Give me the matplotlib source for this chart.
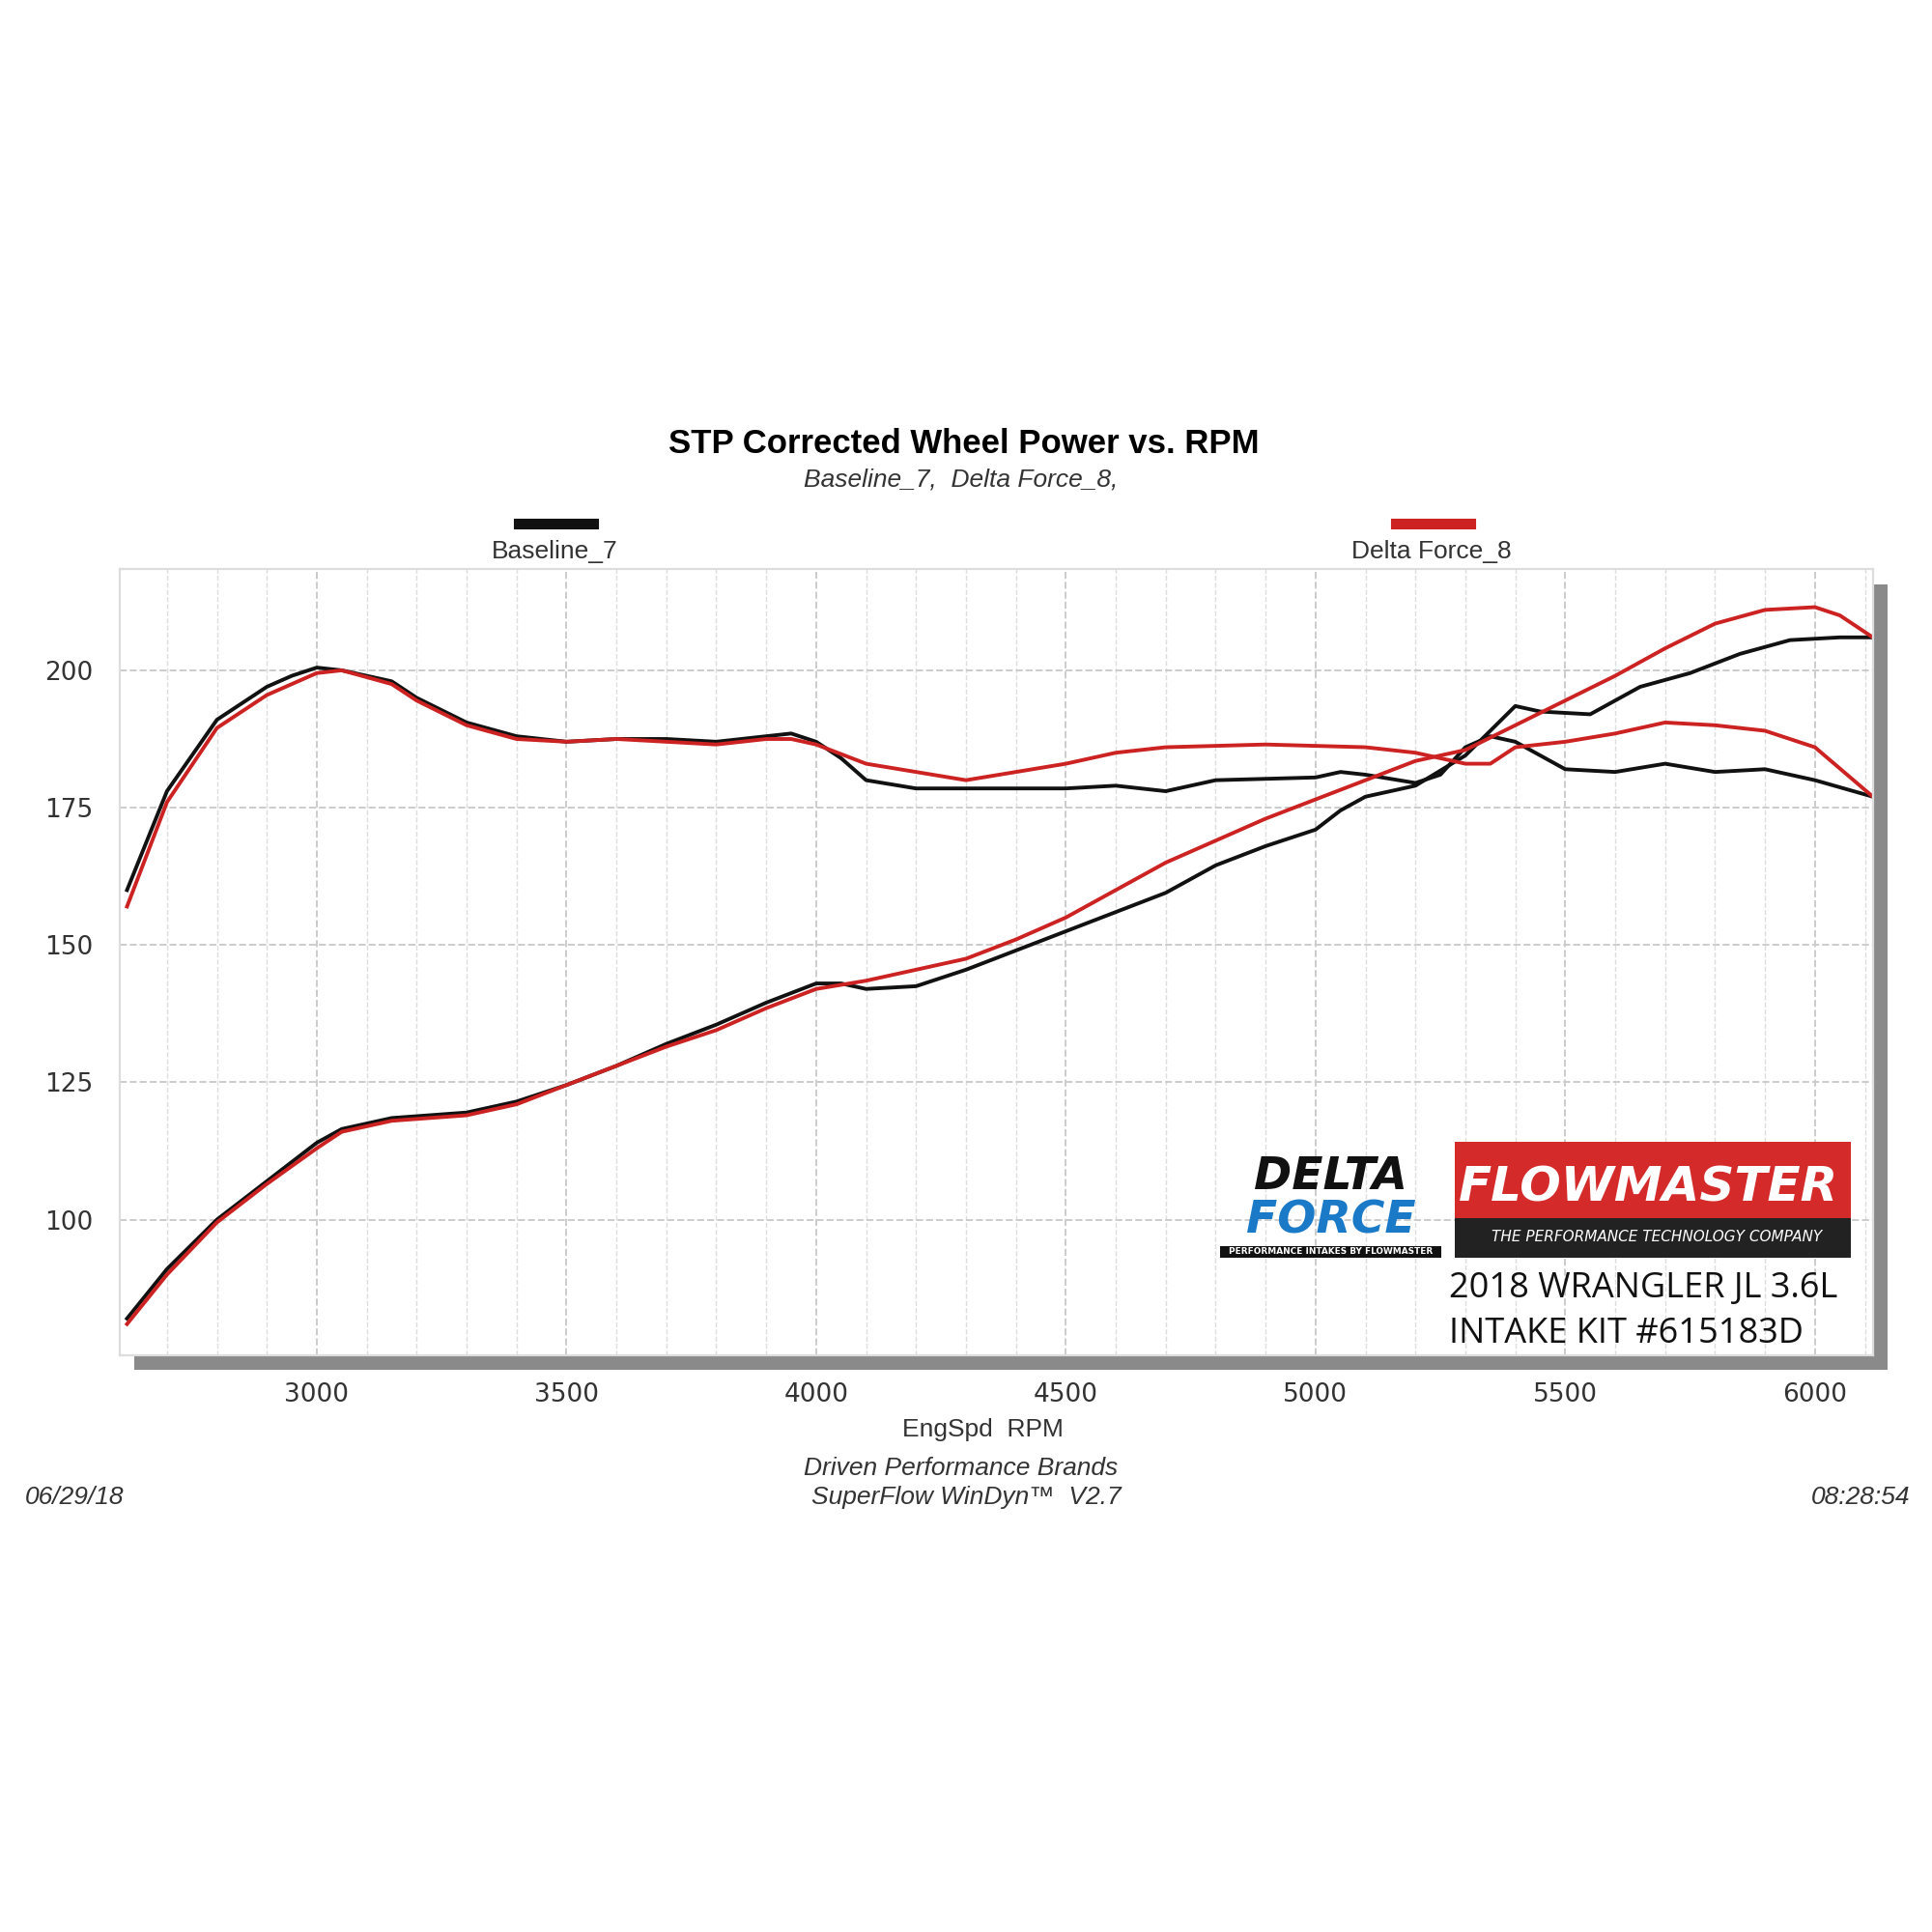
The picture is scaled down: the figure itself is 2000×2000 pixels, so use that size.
import matplotlib.pyplot as plt
from matplotlib.patches import Rectangle

W = 1568.0  # reference pixel scale

# torque-like upper curves and hp-like lower curves
rpm_bu = [2620, 2700, 2800, 2900, 2950, 3000, 3050, 3150, 3200, 3300, 3400, 3500, 3600, 3700, 3800, 3900, 3950, 4000, 4050, 4100, 4200, 4300, 4400, 4500, 4600, 4700, 4800, 5000, 5050, 5100, 5200, 5250, 5300, 5350, 5400, 5500, 5600, 5700, 5800, 5900, 6000, 6116]
base_up = [160, 178, 191, 197, 199, 200.5, 200, 198, 195, 190.5, 188, 187, 187.5, 187.5, 187, 188, 188.5, 187, 184, 180, 178.5, 178.5, 178.5, 178.5, 179, 178, 180, 180.5, 181.5, 181, 179.5, 181, 186, 188, 187, 182, 181.5, 183, 181.5, 182, 180, 177]
rpm_ru = [2620, 2700, 2800, 2900, 3000, 3050, 3150, 3200, 3300, 3400, 3500, 3600, 3700, 3800, 3900, 3950, 4000, 4100, 4200, 4300, 4400, 4500, 4600, 4700, 4900, 5100, 5200, 5300, 5350, 5400, 5500, 5600, 5700, 5800, 5900, 6000, 6116]
delta_up = [157, 176, 189.5, 195.5, 199.5, 200, 197.5, 194.5, 190, 187.5, 187, 187.5, 187, 186.5, 187.5, 187.5, 186.5, 183, 181.5, 180, 181.5, 183, 185, 186, 186.5, 186, 185, 183, 183, 186, 187, 188.5, 190.5, 190, 189, 186, 177]
rpm_bl = [2620, 2700, 2800, 2900, 3000, 3050, 3150, 3300, 3400, 3500, 3600, 3700, 3800, 3900, 4000, 4050, 4100, 4200, 4300, 4400, 4500, 4600, 4700, 4800, 4900, 5000, 5050, 5100, 5200, 5300, 5350, 5400, 5450, 5550, 5650, 5750, 5850, 5950, 6050, 6116]
base_lo = [82, 91, 100, 107, 114, 116.5, 118.5, 119.5, 121.5, 124.5, 128, 132, 135.5, 139.5, 143, 143, 142, 142.5, 145.5, 149, 152.5, 156, 159.5, 164.5, 168, 171, 174.5, 177, 179, 184.5, 189, 193.5, 192.5, 192, 197, 199.5, 203, 205.5, 206, 206]
rpm_rl = [2620, 2700, 2800, 2900, 3000, 3050, 3150, 3300, 3400, 3500, 3600, 3700, 3800, 3900, 4000, 4100, 4200, 4300, 4400, 4500, 4600, 4700, 4800, 4900, 5000, 5100, 5200, 5300, 5400, 5500, 5600, 5700, 5800, 5900, 6000, 6050, 6116]
delta_lo = [81, 90, 99.5, 106.5, 113, 116, 118, 119, 121, 124.5, 128, 131.5, 134.5, 138.5, 142, 143.5, 145.5, 147.5, 151, 155, 160, 165, 169, 173, 176.5, 180, 183.5, 185.5, 190, 194.5, 199, 204, 208.5, 211, 211.5, 210, 206]

fig = plt.figure(figsize=(10, 10), dpi=200)
fig.patch.set_facecolor("white")

l, r, t, b = 97 / W, 1520 / W, 1 - 462 / W, 1 - 1100 / W
# drop shadow
fig.add_artist(Rectangle((l + 12 / W, b - 12 / W), r - l, t - b, transform=fig.transFigure,
                         facecolor="#8a8a8a", edgecolor="none", zorder=0))
ax = fig.add_axes([l, b, r - l, t - b], zorder=1)
ax.set_facecolor("white")
ax.set_xlim(2605, 6116)
ax.set_ylim(75.3, 218.4)
ax.set_xticks([3000, 3500, 4000, 4500, 5000, 5500, 6000])
ax.set_yticks([100, 125, 150, 175, 200])
ax.set_xticks(range(2700, 6101, 100), minor=True)
ax.grid(True, which="major", color="#cccccc", ls="--", lw=0.7)
ax.grid(True, which="minor", axis="x", color="#dddddd", ls="--", lw=0.5)
for s in ax.spines.values():
    s.set_color("#dddddd")
ax.tick_params(which="both", length=0, labelsize=9.5, colors="#333333", pad=10)

ax.plot(rpm_bu, base_up, color="#111111", lw=1.4)
ax.plot(rpm_bl, base_lo, color="#111111", lw=1.4)
ax.plot(rpm_ru, delta_up, color="#cc2222", lw=1.4)
ax.plot(rpm_rl, delta_lo, color="#cc2222", lw=1.4)

fs = "Liberation Sans"
fig.text(782 / W, 1 - 360 / W, "STP Corrected Wheel Power vs. RPM", ha="center", va="center",
         fontsize=12.5, fontweight="bold", family=fs)
fig.text(780 / W, 1 - 389 / W, "Baseline_7,  Delta Force_8,", ha="center", va="center",
         fontsize=9.5, style="italic", family=fs, color="#333333")
fig.add_artist(plt.Line2D([421 / W, 481 / W], [1 - 425 / W] * 2, color="#111111", lw=4))
fig.add_artist(plt.Line2D([1133 / W, 1193 / W], [1 - 425 / W] * 2, color="#cc2222", lw=4))
fig.text(450 / W, 1 - 448 / W, "Baseline_7", ha="center", va="center", fontsize=9.5, family=fs, color="#333333")
fig.text(1162 / W, 1 - 448 / W, "Delta Force_8", ha="center", va="center", fontsize=9.5, family=fs, color="#333333")
fig.text(798 / W, 1 - 1160 / W, "EngSpd  RPM", ha="center", va="center", fontsize=9.5, family=fs, color="#333333")
fig.text(780 / W, 1 - 1192 / W, "Driven Performance Brands", ha="center", va="center", fontsize=9.5,
         style="italic", family=fs, color="#333333")
fig.text(784 / W, 1 - 1215 / W, "SuperFlow WinDyn™  V2.7", ha="center", va="center", fontsize=9.5,
         style="italic", family=fs, color="#333333")
fig.text(20 / W, 1 - 1215 / W, "06/29/18", ha="left", va="center", fontsize=9.5, style="italic", family=fs, color="#333333")
fig.text(1550 / W, 1 - 1215 / W, "08:28:54", ha="right", va="center", fontsize=9.5, style="italic", family=fs, color="#333333")

# logo stand-ins
fig.text(1080 / W, 1 - 955 / W, "DELTA", ha="center", va="center", fontsize=17, fontweight="heavy",
         style="italic", family="DejaVu Sans", color="#111111", zorder=3)
fig.text(1080 / W, 1 - 991 / W, "FORCE", ha="center", va="center", fontsize=17, fontweight="heavy",
         style="italic", family="DejaVu Sans", color="#1a7ac8", zorder=3)
fig.add_artist(Rectangle((990 / W, 1 - 1021 / W), 180 / W, 10 / W, transform=fig.transFigure,
                         facecolor="#111111", zorder=3))
fig.text(1080 / W, 1 - 1016 / W, "PERFORMANCE INTAKES BY FLOWMASTER", ha="center", va="center",
         fontsize=3.2, color="white", fontweight="bold", zorder=4)
fig.add_artist(Rectangle((1181 / W, 1 - 1021 / W), 321 / W, 94 / W, transform=fig.transFigure,
                         facecolor="#d42a2a", zorder=3))
fig.add_artist(Rectangle((1181 / W, 1 - 1021 / W), 321 / W, 32 / W, transform=fig.transFigure,
                         facecolor="#222222", zorder=3))
fig.text(1338 / W, 1 - 964 / W, "FLOWMASTER", ha="center", va="center", fontsize=18, fontweight="heavy",
         style="italic", family="DejaVu Sans", color="white", zorder=4)
fig.text(1345 / W, 1 - 1004 / W, "THE PERFORMANCE TECHNOLOGY COMPANY", ha="center", va="center",
         fontsize=5.5, style="italic", color="white", zorder=4)
fig.text(1176 / W, 1 - 1046 / W, "2018 WRANGLER JL 3.6L", ha="left", va="center", fontsize=13,
         family="Open Sans", color="#111111", zorder=4)
fig.text(1176 / W, 1 - 1083 / W, "INTAKE KIT #615183D", ha="left", va="center", fontsize=13,
         family="Open Sans", color="#111111", zorder=4)

fig.savefig("out.png", dpi=200, facecolor="white")
